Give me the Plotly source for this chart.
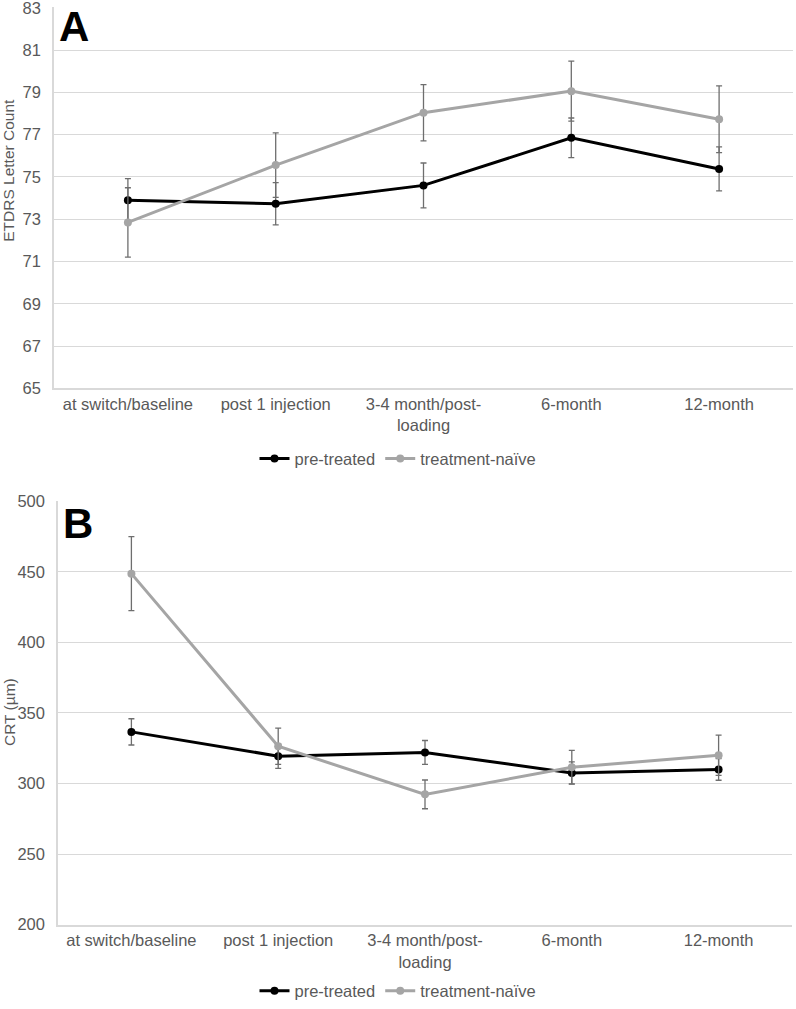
import plotly.graph_objects as go

W, H = 796, 1009

categories = ["at switch/baseline", "post 1 injection", "3-4 month/post-loading", "6-month", "12-month"]
tick_labels = ["at switch/baseline", "post 1 injection", "3-4 month/post-<br>loading", "6-month", "12-month"]

# Panel A: ETDRS letter count
a_ticks = [65, 67, 69, 71, 73, 75, 77, 79, 81, 83]
a_pre = [73.9, 73.73, 74.6, 76.85, 75.38]
a_pre_err = [1.02, 1.0, 1.06, 0.94, 1.04]
a_naive = [72.85, 75.56, 78.04, 79.06, 77.73]
a_naive_err = [1.64, 1.53, 1.33, 1.42, 1.58]

# Panel B: CRT (µm)
b_ticks = [200, 250, 300, 350, 400, 450, 500]
b_pre = [336.6, 319.4, 322.0, 307.5, 310.0]
b_pre_err = [9.3, 8.7, 8.5, 7.8, 7.7]
b_naive = [448.8, 326.4, 292.3, 311.5, 320.0]
b_naive_err = [26.2, 12.8, 10.2, 12.0, 14.3]

series_names = ["pre-treated", "treatment-naïve"]

FONT = "Liberation Sans, Arial, sans-serif"
TXT = "#595959"
GRID = "#D9D9D9"
BLACK = "#000000"
GREY = "#A5A5A5"
ERR = "#6E6E6E"


def px_x(p):
    return p / W


def px_y(p):
    return 1 - p / H


fig = go.Figure()


def add(x, y, err, name, color, xa, ya, legend):
    fig.add_trace(go.Scatter(
        x=x, y=y, name=name, mode="lines+markers",
        line=dict(color=color, width=3),
        marker=dict(color=color, size=8),
        error_y=dict(type="data", array=err, visible=True, color=ERR, thickness=1.3, width=3),
        xaxis=xa, yaxis=ya, legend=legend,
    ))


add(categories, a_pre, a_pre_err, series_names[0], BLACK, "x", "y", "legend")
add(categories, a_naive, a_naive_err, series_names[1], GREY, "x", "y", "legend")
add(categories, b_pre, b_pre_err, series_names[0], BLACK, "x2", "y2", "legend2")
add(categories, b_naive, b_naive_err, series_names[1], GREY, "x2", "y2", "legend2")

FS = 16.5
xcommon = dict(type="category", range=[-0.5, 4.5], showline=True, linecolor=GRID, linewidth=1.5,
               showgrid=False, tickvals=categories, ticktext=tick_labels, ticks="",
               tickfont=dict(family=FONT, size=FS, color=TXT), automargin=False, fixedrange=True)
ycommon = dict(showline=True, linecolor=GRID, linewidth=1.5, gridcolor=GRID, gridwidth=1.3,
               zeroline=False, ticks="", ticklabelstandoff=8, tickmode="array",
               ticklabeloverflow="allow",
               tickfont=dict(family=FONT, size=FS, color=TXT), automargin=False)

fig.update_layout(
    width=W, height=H,
    margin=dict(l=0, r=0, t=0, b=0),
    paper_bgcolor="white", plot_bgcolor="white",
    font=dict(family=FONT, color=TXT),
    xaxis=dict(domain=[px_x(54), px_x(793)], anchor="y", **xcommon),
    yaxis=dict(domain=[px_y(391), px_y(7.5)], anchor="x", range=[65, 83.02], tickvals=a_ticks, **ycommon),
    xaxis2=dict(domain=[px_x(58), px_x(792)], anchor="y2", **xcommon),
    yaxis2=dict(domain=[px_y(931), px_y(504.5)], anchor="x2", range=[200, 500.3], tickvals=b_ticks, **ycommon),
    legend=dict(orientation="h", x=0.5, xanchor="center", y=px_y(462), yanchor="middle",
                font=dict(family=FONT, size=FS, color=TXT), itemwidth=30, bgcolor="rgba(0,0,0,0)"),
    legend2=dict(orientation="h", x=0.5, xanchor="center", y=px_y(998), yanchor="middle",
                 font=dict(family=FONT, size=FS, color=TXT), itemwidth=30, bgcolor="rgba(0,0,0,0)"),
    annotations=[
        dict(text="<b>A</b>", x=px_x(74), y=px_y(27), xref="paper", yref="paper", showarrow=False,
             xanchor="center", yanchor="middle", font=dict(family=FONT, size=42, color="#000000")),
        dict(text="<b>B</b>", x=px_x(78), y=px_y(527), xref="paper", yref="paper", showarrow=False,
             xanchor="center", yanchor="middle", font=dict(family=FONT, size=42, color="#000000")),
        dict(text="ETDRS Letter Count", textangle=-90, x=px_x(9), y=px_y(172), xref="paper", yref="paper",
             showarrow=False, xanchor="center", yanchor="middle", font=dict(family=FONT, size=15.5, color=TXT)),
        dict(text="CRT (µm)", textangle=-90, x=px_x(9), y=px_y(717), xref="paper", yref="paper",
             showarrow=False, xanchor="center", yanchor="middle", font=dict(family=FONT, size=15.5, color=TXT)),
    ],
)

fig.write_html("out.html")
